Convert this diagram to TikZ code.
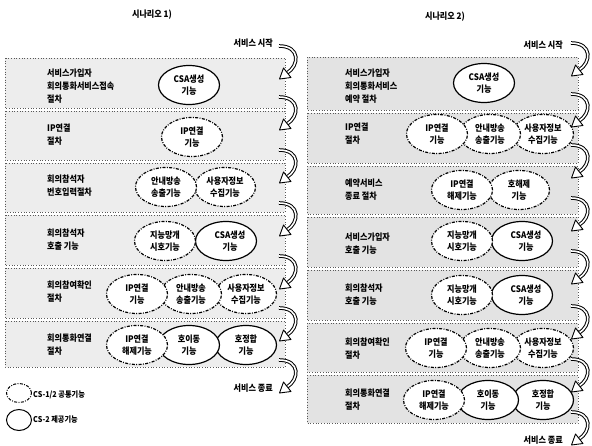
\documentclass[tikz,border=0pt]{standalone}
\usepackage{fontspec}
\setmainfont{Noto Sans CJK KR}[FakeStretch=0.9]
\usetikzlibrary{shapes.geometric}
\newcommand\flowarrow[2]{%
  \draw[line width=3.6pt,black] (#1,#2-16) .. controls (#1+22,#2-16) and (#1+20,#2+4) .. (#1+8,#2+11);
  \draw[line width=1.6pt,white] (#1,#2-16) .. controls (#1+22,#2-16) and (#1+20,#2+4) .. (#1+8,#2+11);
  \filldraw[fill=white,draw=black,line width=0.9pt,line join=round] (#1+12,#2+15.5) -- (#1+4.5,#2+6) -- (#1+0.5,#2+17) -- cycle;
}
\tikzset{
  band/.style={draw=black!65,dotted,line width=0.7pt,fill=black!7},
  bandR/.style={band,fill=black!11},
  ell/.style={ellipse,fill=white,line width=1.2pt,minimum width=61pt,minimum height=39pt,inner sep=0pt,align=center,font=\fontsize{9}{12.5}\selectfont\bfseries},
  cs1/.style={ell,draw=black,dash pattern=on 3pt off 1.4pt on 0.9pt off 1.4pt},
  cs2/.style={ell,draw=black},
  lbl/.style={anchor=west,align=left,inner sep=0pt,font=\fontsize{9}{13}\selectfont\bfseries},
  ttl/.style={inner sep=0pt,font=\fontsize{9}{11}\selectfont\bfseries},
}
\begin{document}
\begin{tikzpicture}[x=1pt,y=-1pt]
\fill[white] (0,0) rectangle (592,445);
\useasboundingbox (0,0) rectangle (592,445);
% ---------- titles ----------
\node[ttl] (t1) at (152,15) {시나리오 1)};
\node[ttl] (t2) at (445,17) {시나리오 2)};
\node[ttl,anchor=east] (s1) at (273,43) {서비스 시작};
\node[ttl,anchor=east] (s2) at (563,45) {서비스 시작};
\node[ttl,anchor=east] (e1) at (273,388) {서비스 종료};
\node[ttl,anchor=east] (e2) at (563,440) {서비스 종료};
% ---------- left bands ----------
\foreach \a/\b in {58/108,111/160,163/212,215/265,268/318,321/367}
  \draw[band] (5,\a) rectangle (285,\b);
% ---------- right bands ----------
\foreach \a/\b in {57/110,113/163,166/214,217/267,270/320,323/372,375/423}
  \draw[bandR] (307,\a) rectangle (578,\b);
% ---------- left panel ----------
\node[lbl] (l1) at (47,86) {서비스가입자\\회의통화서비스접속\\절차};
\node[cs2] (l1a) at (189,85) {CSA생성\\기능};
\node[lbl] (l2) at (47,135) {IP연결\\절차};
\node[cs1] (l2a) at (192,137) {IP연결\\기능};
\node[lbl] (l3) at (47,186) {회의참석자\\번호입력절차};
\node[cs1] (l3b) at (225,187) {사용자정보\\수집기능};
\node[cs1] (l3a) at (166,187) {안내방송\\송출기능};
\node[lbl] (l4) at (47,240) {회의참석자\\호출 기능};
\node[cs2] (l4b) at (226,241) {\hspace*{8pt}CSA생성\\\hspace*{8pt}기능};
\node[cs1] (l4a) at (165,241) {지능망개\\시호기능};
\node[lbl] (l5) at (47,292) {회의참여확인\\절차};
\node[cs1] (l5c) at (246,294) {사용자정보\\수집기능};
\node[cs1] (l5b) at (191,294) {안내방송\\송출기능};
\node[cs1] (l5a) at (137,294) {IP연결\\기능};
\node[lbl] (l6) at (47,345) {회의통화연결\\절차};
\node[cs2] (l6c) at (246,345) {호정합\\기능};
\node[cs2] (l6b) at (189,345) {호이동\\기능};
\node[cs1] (l6a) at (137,345) {IP연결\\해제기능};
% ---------- right panel ----------
\node[lbl] (r1) at (345,86) {서비스가입자\\회의통화서비스\\예약 절차};
\node[cs2] (r1a) at (484,83) {CSA생성\\기능};
\node[lbl] (r2) at (345,134) {IP연결\\절차};
\node[cs1] (r2c) at (543,134) {사용자정보\\수집기능};
\node[cs1] (r2b) at (490,134) {안내방송\\송출기능};
\node[cs1] (r2a) at (437,134) {IP연결\\기능};
\node[lbl] (r3) at (345,190) {예약서비스\\종료 절차};
\node[cs1] (r3b) at (519,190) {호해제\\기능};
\node[cs1] (r3a) at (462,190) {IP연결\\해제기능};
\node[lbl] (r4) at (345,244) {서비스가입자\\호출 기능};
\node[cs2] (r4b) at (522,241) {\hspace*{8pt}CSA생성\\\hspace*{8pt}기능};
\node[cs1] (r4a) at (462,241) {지능망개\\시호기능};
\node[lbl] (r5) at (345,295) {회의참석자\\호출 기능};
\node[cs2] (r5b) at (522,295) {\hspace*{8pt}CSA생성\\\hspace*{8pt}기능};
\node[cs1] (r5a) at (462,295) {지능망개\\시호기능};
\node[lbl] (r6) at (345,349) {회의참여확인\\절차};
\node[cs1] (r6c) at (543,348) {사용자정보\\수집기능};
\node[cs1] (r6b) at (490,348) {안내방송\\송출기능};
\node[cs1] (r6a) at (436,348) {IP연결\\기능};
\node[lbl] (r7) at (345,400) {회의통화연결\\절차};
\node[cs2] (r7c) at (543,400) {호정합\\기능};
\node[cs2] (r7b) at (488,400) {호이동\\기능};
\node[cs1] (r7a) at (434,400) {IP연결\\해제기능};
% ---------- flow arrows ----------
\foreach \c in {62,113,166,219,272,324,376} {\flowarrow{279}{\c}}
\foreach \c in {59,110,161,214,267,322,375,428} {\flowarrow{571}{\c}}
% ---------- legend ----------
\node[cs1,minimum width=25pt,minimum height=19pt,line width=1pt] (k1) at (19,393) {};
\node[ttl,anchor=west,font=\fontsize{8}{10}\selectfont\bfseries] (k1t) at (33,395) {CS-1/2 공통기능};
\node[cs2,minimum width=25pt,minimum height=21pt,line width=1pt] (k2) at (19,420) {};
\node[ttl,anchor=west,font=\fontsize{8}{10}\selectfont\bfseries] (k2t) at (33,420) {CS-2 제공기능};
\end{tikzpicture}
\end{document}
